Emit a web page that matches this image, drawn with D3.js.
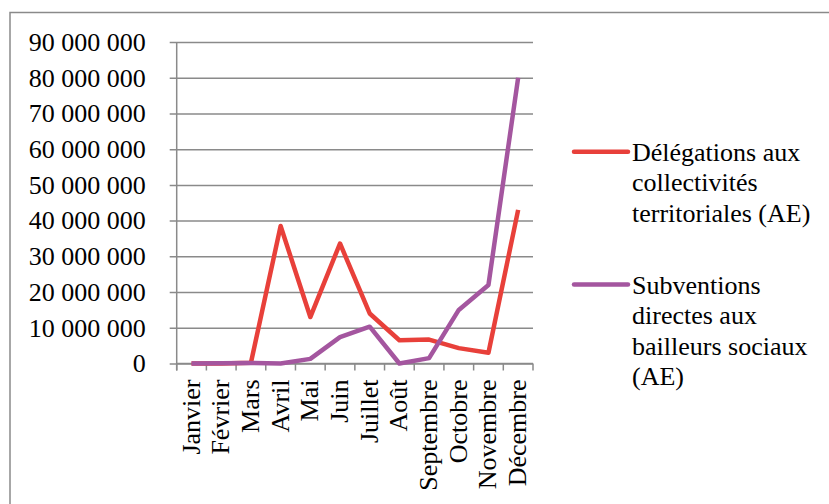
<!DOCTYPE html>
<html>
<head>
<meta charset="utf-8">
<script src="https://cdn.jsdelivr.net/npm/d3@7"></script>
<style>
  html, body { margin: 0; padding: 0; background: #fff; }
  svg { display: block; }
</style>
</head>
<body>
<script>
// Monthly commitments (AE), in euros
const months = ["Janvier", "Février", "Mars", "Avril", "Mai", "Juin", "Juillet",
                "Août", "Septembre", "Octobre", "Novembre", "Décembre"];
const delegations = [0, 0, 200000, 38500000, 13000000, 33600000, 14000000,
                     6500000, 6700000, 4300000, 3000000, 43000000];
const subventions = [0, 100000, 150000, 0, 1300000, 7400000, 10300000,
                     0, 1500000, 15000000, 22000000, 80000000];
const yTicks = [0, 10000000, 20000000, 30000000, 40000000, 50000000,
                60000000, 70000000, 80000000, 90000000];
const seriesNames = [
  ["Délégations aux", "collectivités", "territoriales (AE)"],
  ["Subventions", "directes aux", "bailleurs sociaux", "(AE)"]
];
const seriesColors = ["#E8403A", "#A4569F"];

const FONT = "Liberation Serif";
const W = 829, H = 504;
const plot = { left: 176.7, right: 533, top: 42, bottom: 363.5 };

const svg = d3.select("body").append("svg")
  .attr("width", W).attr("height", H)
  .attr("font-family", FONT);

// outer frame
svg.append("rect")
  .attr("x", 10).attr("y", 12.5).attr("width", W).attr("height", H)
  .attr("fill", "none").attr("stroke", "#8a8a8a").attr("stroke-width", 1.5);

const x = d3.scaleBand().domain(months).range([plot.left, plot.right]);
const y = d3.scaleLinear().domain([0, 90000000]).range([plot.bottom, plot.top]);

const fmt = v => d3.format(",")(v).replace(/,/g, " ");

// horizontal gridlines with left tick marks
const gAxisY = svg.append("g")
  .attr("transform", `translate(${plot.left},0)`)
  .call(d3.axisLeft(y).tickValues(yTicks).tickSize(7).tickPadding(24).tickFormat(fmt))
  .attr("font-family", FONT).attr("font-size", 26);
gAxisY.select(".domain").remove();
gAxisY.selectAll(".tick line").attr("stroke", "#8a8a8a").attr("stroke-width", 1.5)
  .attr("x1", -7).attr("x2", plot.right - plot.left);
gAxisY.selectAll(".tick text")
  .attr("font-family", FONT).attr("font-size", 26).attr("fill", "#000");

// vertical axis line
svg.append("line")
  .attr("x1", plot.left).attr("x2", plot.left)
  .attr("y1", y(90000000)).attr("y2", plot.bottom + 7)
  .attr("stroke", "#8a8a8a").attr("stroke-width", 1.5);

// bottom axis with tick marks at band boundaries
const gAxisX = svg.append("g").attr("transform", `translate(0,${plot.bottom})`);
gAxisX.append("line")
  .attr("x1", plot.left).attr("x2", plot.right)
  .attr("stroke", "#8a8a8a").attr("stroke-width", 1.5);
const bounds = months.map(m => x(m)).concat([plot.right]);
gAxisX.selectAll("line.tk").data(bounds).join("line").attr("class", "tk")
  .attr("x1", d => d).attr("x2", d => d).attr("y1", 0).attr("y2", 7)
  .attr("stroke", "#8a8a8a").attr("stroke-width", 1.5);
gAxisX.selectAll("text").data(months).join("text")
  .attr("transform", d => `translate(${x(d) + x.bandwidth() / 2 + 8},16) rotate(-90)`)
  .attr("text-anchor", "end")
  .attr("font-family", FONT).attr("font-size", 26).attr("fill", "#000")
  .text(d => d);

// series lines
const line = d3.line()
  .x((d, i) => x(months[i]) + x.bandwidth() / 2)
  .y(d => y(d));
[delegations, subventions].forEach((s, k) => {
  svg.append("path")
    .datum(s)
    .attr("d", line)
    .attr("fill", "none")
    .attr("stroke", seriesColors[k])
    .attr("stroke-width", 4.5)
    .attr("stroke-linejoin", "round");
});

// legend
const legendY = [151.7, 284.5];
const lineH = 30.6;
seriesNames.forEach((lines, k) => {
  const g = svg.append("g");
  g.append("line")
    .attr("x1", 574).attr("x2", 628)
    .attr("y1", legendY[k]).attr("y2", legendY[k])
    .attr("stroke", seriesColors[k]).attr("stroke-width", 4.5)
    .attr("stroke-linecap", "round");
  lines.forEach((ln, i) => {
    g.append("text")
      .attr("x", 632).attr("y", legendY[k] + 9 + i * lineH)
      .attr("font-family", FONT).attr("font-size", 26).attr("fill", "#000")
      .text(ln);
  });
});
</script>
</body>
</html>
